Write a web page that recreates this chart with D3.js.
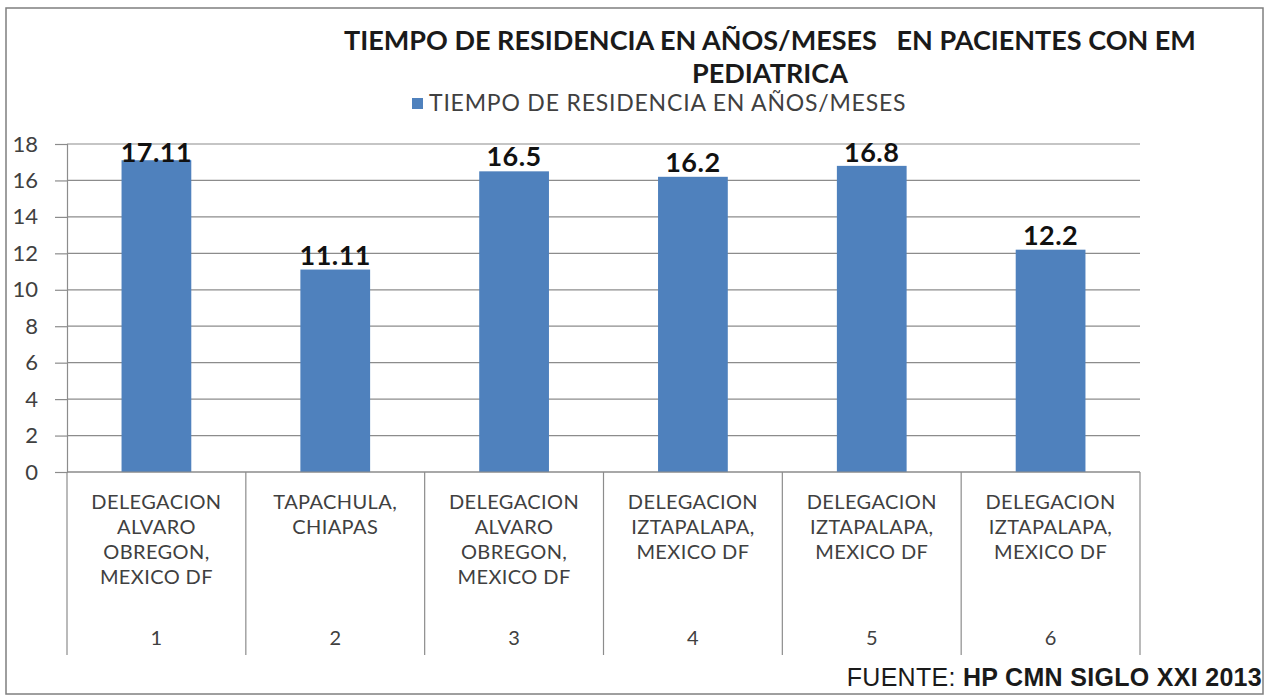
<!DOCTYPE html>
<html>
<head>
<meta charset="utf-8">
<script src="https://cdn.jsdelivr.net/npm/d3@7"></script>
<style>
  body { margin: 0; background: #fff; }
  text { font-family: Lato, "Open Sans", sans-serif; }
</style>
</head>
<body>
<div id="chart"></div>
<script>
// data
var categories = ['1', '2', '3', '4', '5', '6'];
var places = [
  ['DELEGACION', 'ALVARO', 'OBREGON,', 'MEXICO DF'],
  ['TAPACHULA,', 'CHIAPAS'],
  ['DELEGACION', 'ALVARO', 'OBREGON,', 'MEXICO DF'],
  ['DELEGACION', 'IZTAPALAPA,', 'MEXICO DF'],
  ['DELEGACION', 'IZTAPALAPA,', 'MEXICO DF'],
  ['DELEGACION', 'IZTAPALAPA,', 'MEXICO DF']
];
var values = [17.11, 11.11, 16.5, 16.2, 16.8, 12.2];
var valueLabels = ['17.11', '11.11', '16.5', '16.2', '16.8', '12.2'];
var yTicks = [0, 2, 4, 6, 8, 10, 12, 14, 16, 18];
var seriesName = 'TIEMPO DE RESIDENCIA EN AÑOS/MESES';
var titleLines = ['TIEMPO DE RESIDENCIA EN AÑOS/MESES   EN PACIENTES CON EM', 'PEDIATRICA'];

(function() {

var W = 1270, H = 700;
var pl = 67, pr = 1140, pt = 144, pb = 472;

var svg = d3.select('#chart').append('svg')
    .attr('width', W)
    .attr('height', H);

// outer frame
svg.append('rect')
    .attr('x', 6).attr('y', 8)
    .attr('width', 1257).attr('height', 686)
    .attr('fill', '#fff')
    .attr('stroke', '#7f7f7f')
    .attr('stroke-width', 1.5);

var x = d3.scaleBand().domain(categories).range([pl, pr]).paddingInner(0).paddingOuter(0);
var y = d3.scaleLinear().domain([0, 18]).range([pb, pt]);

// gridlines
svg.append('g').selectAll('line')
    .data(yTicks)
    .enter().append('line')
    .attr('x1', pl).attr('x2', pr)
    .attr('y1', function(d) { return y(d); })
    .attr('y2', function(d) { return y(d); })
    .attr('stroke', '#8c8c8c')
    .attr('stroke-width', 1.2);

// y axis
var yAxis = svg.append('g')
    .attr('transform', 'translate(' + pl + ',0)')
    .call(d3.axisLeft(y).tickValues(yTicks).tickSize(12).tickPadding(17));
yAxis.select('.domain').attr('stroke', '#8c8c8c').attr('stroke-width', 1.2);
yAxis.selectAll('.tick line').attr('stroke', '#8c8c8c').attr('stroke-width', 1.2);
yAxis.selectAll('.tick text')
    .attr('fill', '#404040')
    .style('font-size', '22px')
    .style('font-family', 'Lato, sans-serif');

// bars
var bw = x.bandwidth() * 0.39;
svg.append('g').selectAll('rect')
    .data(values)
    .enter().append('rect')
    .attr('x', function(d, i) { return x(categories[i]) + (x.bandwidth() - bw) / 2; })
    .attr('y', function(d) { return y(d); })
    .attr('width', bw)
    .attr('height', function(d) { return pb - y(d); })
    .attr('fill', '#4f81bd');

// value labels
svg.append('g').selectAll('text')
    .data(values)
    .enter().append('text')
    .attr('x', function(d, i) { return x(categories[i]) + x.bandwidth() / 2; })
    .attr('y', function(d) { return Math.max(y(d) - 5, pt + 18); })
    .attr('text-anchor', 'middle')
    .attr('fill', '#111')
    .style('font-size', '27px')
    .style('font-weight', 'bold')
    .style('letter-spacing', '0.5px')
    .text(function(d, i) { return valueLabels[i]; });

// category axis (two levels)
var cat = svg.append('g');
cat.append('line')
    .attr('x1', pl).attr('x2', pr)
    .attr('y1', pb).attr('y2', pb)
    .attr('stroke', '#8c8c8c').attr('stroke-width', 1.2);
cat.selectAll('line.sep')
    .data(categories.concat(['end']))
    .enter().append('line')
    .attr('class', 'sep')
    .attr('x1', function(d, i) { return pl + i * x.bandwidth(); })
    .attr('x2', function(d, i) { return pl + i * x.bandwidth(); })
    .attr('y1', pb).attr('y2', 655)
    .attr('stroke', '#8c8c8c').attr('stroke-width', 1.2);

places.forEach(function(lines, i) {
  var t = cat.append('text')
      .attr('text-anchor', 'middle')
      .attr('fill', '#404040')
      .style('font-size', '20px')
      .style('letter-spacing', '0.4px');
  lines.forEach(function(l, j) {
    t.append('tspan')
        .attr('x', x(categories[i]) + x.bandwidth() / 2)
        .attr('y', 509 + j * 25)
        .text(l);
  });
});

cat.selectAll('text.num')
    .data(categories)
    .enter().append('text')
    .attr('class', 'num')
    .attr('x', function(d) { return x(d) + x.bandwidth() / 2; })
    .attr('y', 645)
    .attr('text-anchor', 'middle')
    .attr('fill', '#404040')
    .style('font-size', '20px')
    .text(function(d) { return d; });

// title
svg.selectAll('text.title')
    .data(titleLines)
    .enter().append('text')
    .attr('class', 'title')
    .attr('x', 770)
    .attr('y', function(d, i) { return 50 + i * 33; })
    .attr('text-anchor', 'middle')
    .attr('fill', '#1a1a1a')
    .style('font-size', '27px')
    .style('font-weight', 'bold')
    .style('white-space', 'pre')
    .text(function(d) { return d; });

// legend
svg.append('rect')
    .attr('x', 412).attr('y', 98)
    .attr('width', 11).attr('height', 11)
    .attr('fill', '#4f81bd');
svg.append('text')
    .attr('x', 429).attr('y', 111)
    .attr('fill', '#404040')
    .style('font-size', '23px')
    .style('letter-spacing', '0.8px')
    .text(seriesName);

// source note
var src = svg.append('text')
    .attr('x', 1262).attr('y', 686)
    .attr('text-anchor', 'end')
    .attr('fill', '#1a1a1a')
    .style('font-family', '"Liberation Sans", Arial, sans-serif')
    .style('font-size', '25px')
    .style('letter-spacing', '0.3px');
src.append('tspan').text('FUENTE: ');
src.append('tspan').style('font-weight', 'bold').text('HP CMN SIGLO XXI 2013');

})();
</script>
</body>
</html>
